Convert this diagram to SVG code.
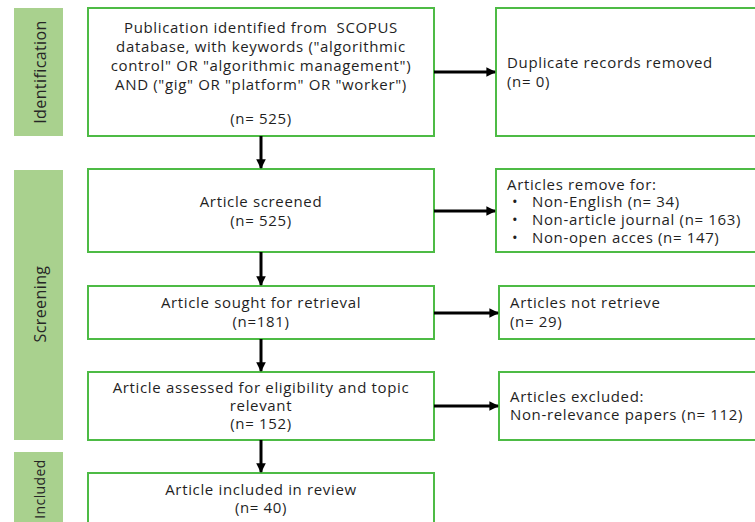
<svg xmlns="http://www.w3.org/2000/svg" width="755" height="522" viewBox="0 0 755 522">
<style>
.side{fill:#a9d18e;}
.box{fill:#ffffff;stroke:#4dbb45;stroke-width:2;}
.t{font-family:"Open Sans","Liberation Sans",sans-serif;font-size:15px;letter-spacing:0.65px;fill:#1f1f1f;}
.c{text-anchor:middle;}
.st{font-family:"Open Sans","Liberation Sans",sans-serif;font-size:16px;letter-spacing:0.4px;fill:#262626;text-anchor:middle;}
.ln{stroke:#000;stroke-width:3;fill:none;marker-end:url(#ah);}
</style>
<defs>
<marker id="ah" viewBox="0 0 10 10" refX="9" refY="5" markerWidth="3.6" markerHeight="3.2" orient="auto" markerUnits="strokeWidth">
<path d="M0,0 L10,5 L0,10 z" fill="#000"/>
</marker>
</defs>
<rect width="755" height="522" fill="#ffffff"/>
<g id="stage-identification">
<rect class="side" x="14" y="8" width="49" height="128"/>
<text class="st" transform="translate(46,72) rotate(-90)">Identification</text>
</g>
<g id="stage-screening">
<rect class="side" x="14" y="170" width="49" height="270"/>
<text class="st" transform="translate(46,304) rotate(-90)">Screening</text>
</g>
<g id="stage-included">
<rect class="side" x="14" y="452" width="49" height="80"/>
<text class="st" style="font-size:14px" transform="translate(45,489) rotate(-90)">Included</text>
</g>
<g id="n1">
<rect class="box" x="88" y="8" width="346" height="128"/>
<text class="t c" x="261" y="33" style="white-space:pre">Publication identified from  SCOPUS</text>
<text class="t c" x="261" y="52">database, with keywords ("algorithmic</text>
<text class="t c" x="261" y="71">control" OR "algorithmic management")</text>
<text class="t c" x="261" y="90">AND ("gig" OR "platform" OR "worker")</text>
<text class="t c" x="261" y="124">(n= 525)</text>
</g>
<g id="n2">
<rect class="box" x="496" y="8" width="270" height="128"/>
<text class="t" x="507" y="68">Duplicate records removed</text>
<text class="t" x="507" y="87">(n= 0)</text>
</g>
<g id="n3">
<rect class="box" x="88" y="169" width="346" height="83"/>
<text class="t c" x="261" y="207">Article screened</text>
<text class="t c" x="261" y="226">(n= 525)</text>
</g>
<g id="n4">
<rect class="box" x="496" y="169" width="270" height="83"/>
<text class="t" x="507" y="190">Articles remove for:</text>
<text class="t" x="512" y="207">•</text>
<text class="t" x="532" y="207">Non-English (n= 34)</text>
<text class="t" x="512" y="225">•</text>
<text class="t" x="532" y="225">Non-article journal (n= 163)</text>
<text class="t" x="512" y="243">•</text>
<text class="t" x="532" y="243">Non-open acces (n= 147)</text>
</g>
<g id="n5">
<rect class="box" x="88" y="286" width="346" height="53"/>
<text class="t c" x="261" y="308">Article sought for retrieval</text>
<text class="t c" x="261" y="327">(n=181)</text>
</g>
<g id="n6">
<rect class="box" x="499" y="286" width="270" height="53"/>
<text class="t" x="510" y="308">Articles not retrieve</text>
<text class="t" x="510" y="327">(n= 29)</text>
</g>
<g id="n7">
<rect class="box" x="88" y="372" width="346" height="68"/>
<text class="t c" x="261" y="393">Article assessed for eligibility and topic</text>
<text class="t c" x="261" y="411">relevant</text>
<text class="t c" x="261" y="429">(n= 152)</text>
</g>
<g id="n8">
<rect class="box" x="499" y="372" width="270" height="68"/>
<text class="t" x="510" y="402">Articles excluded:</text>
<text class="t" x="510" y="420">Non-relevance papers (n= 112)</text>
</g>
<g id="n9">
<rect class="box" x="88" y="473" width="346" height="70"/>
<text class="t c" x="261" y="495">Article included in review</text>
<text class="t c" x="261" y="513">(n= 40)</text>
</g>
<g id="connectors">
<line class="ln" x1="261" y1="136" x2="261" y2="168"/>
<line class="ln" x1="261" y1="252" x2="261" y2="285"/>
<line class="ln" x1="261" y1="339" x2="261" y2="371"/>
<line class="ln" x1="261" y1="440" x2="261" y2="472"/>
<line class="ln" x1="434" y1="72" x2="495" y2="72"/>
<line class="ln" x1="434" y1="211" x2="495" y2="211"/>
<line class="ln" x1="434" y1="313" x2="498" y2="313"/>
<line class="ln" x1="434" y1="406" x2="498" y2="406"/>
</g>
</svg>
